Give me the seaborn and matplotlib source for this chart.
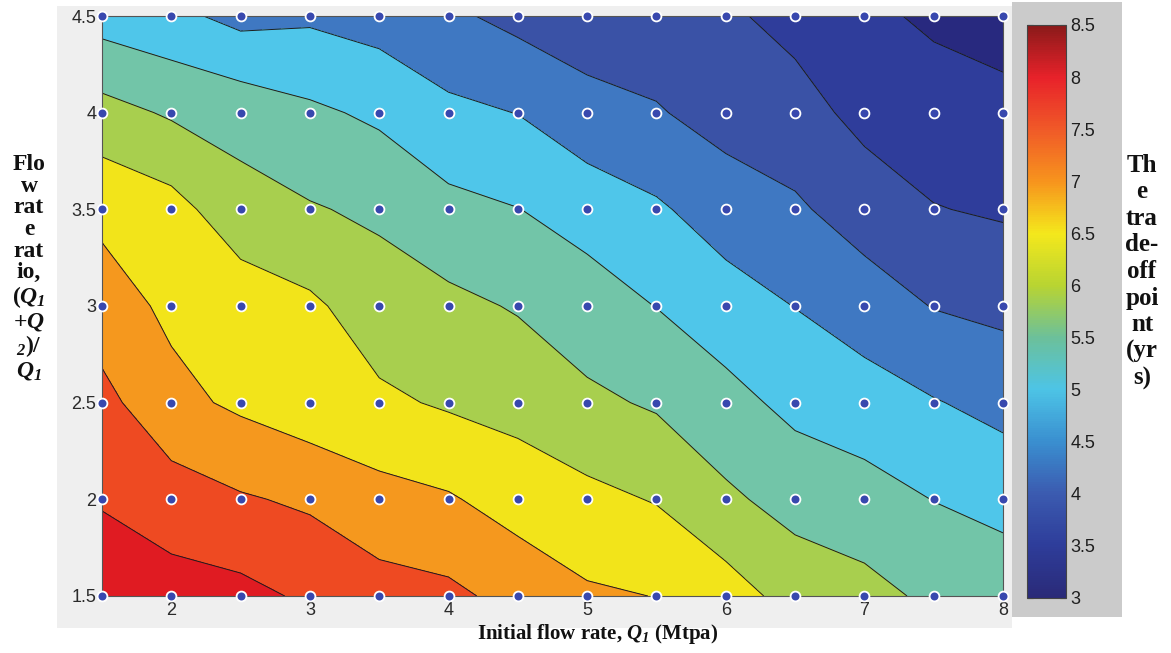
import numpy as np
import pandas as pd
import seaborn as sns
import matplotlib
matplotlib.use("Agg")
import matplotlib.pyplot as plt
from matplotlib.colors import LinearSegmentedColormap, Normalize
from matplotlib.cm import ScalarMappable
from matplotlib.patches import Rectangle

# ---------------- data ----------------
flow_rate = [1.5, 2.0, 2.5, 3.0, 3.5, 4.0, 4.5, 5.0, 5.5, 6.0, 6.5, 7.0, 7.5, 8.0]
ratio = [1.5, 2.0, 2.5, 3.0, 3.5, 4.0, 4.5]
tradeoff_y15 = [8.22, 8.20, 8.14, 7.92, 7.70, 7.61, 7.34, 7.07, 6.99, 6.73, 6.31, 6.16, 5.90, 5.82]
tradeoff_y20 = [7.97, 7.74, 7.55, 7.42, 7.17, 7.05, 6.79, 6.63, 6.47, 6.09, 5.82, 5.69, 5.49, 5.33]
tradeoff_y25 = [7.65, 7.14, 6.91, 6.70, 6.59, 6.44, 6.33, 6.10, 5.94, 5.66, 5.37, 5.23, 5.03, 4.85]
tradeoff_y30 = [7.23, 6.90, 6.79, 6.59, 6.24, 6.12, 5.96, 5.72, 5.49, 5.22, 4.99, 4.74, 4.48, 4.38]
tradeoff_y35 = [6.88, 6.68, 6.19, 6.04, 5.91, 5.64, 5.51, 5.31, 5.07, 4.76, 4.57, 4.28, 4.02, 3.94]
tradeoff_y40 = [6.18, 5.94, 5.81, 5.59, 5.41, 5.11, 4.99, 4.66, 4.54, 4.31, 4.20, 3.85, 3.72, 3.63]
tradeoff_y45 = [5.29, 5.13, 4.85, 4.92, 4.79, 4.59, 4.36, 4.25, 4.20, 4.08, 3.84, 3.60, 3.42, 3.32]
levels = [3.0, 3.5, 4.0, 4.5, 5.0, 5.5, 6.0, 6.5, 7.0, 7.5, 8.0, 8.5]
cbar_ticks = [3, 3.5, 4, 4.5, 5, 5.5, 6, 6.5, 7, 7.5, 8, 8.5]
x_ticks = [2, 3, 4, 5, 6, 7, 8]
y_ticks = [1.5, 2, 2.5, 3, 3.5, 4, 4.5]

band_colors = ["#28297f", "#2f3d9b", "#3a52a6", "#3f78c2", "#4fc6ea", "#72c5a8",
               "#a8cf4e", "#f2e41a", "#f5981e", "#ee4a22", "#e01b22"]
cbar_colors = ["#2a2a78", "#2e3d9a", "#3b5bb0", "#3a8fd0", "#4dc4e6", "#6cc09a",
               "#b8d432", "#f4e81c", "#f7941d", "#f05a28", "#e8222a", "#8b1a1a"]

Z = np.array([tradeoff_y15, tradeoff_y20, tradeoff_y25, tradeoff_y30,
              tradeoff_y35, tradeoff_y40, tradeoff_y45])
X, Y = np.meshgrid(flow_rate, ratio)
df = pd.DataFrame({"x": X.ravel(), "y": Y.ravel(), "z": Z.ravel()})

# ---------------- figure ----------------
sns.set_theme(style="white")
plt.rcParams["font.family"] = ["Liberation Sans", "DejaVu Sans"]
plt.rcParams["mathtext.fontset"] = "custom"
plt.rcParams["mathtext.rm"] = "Liberation Serif:italic:bold"
plt.rcParams["mathtext.it"] = "Liberation Serif:italic:bold"
plt.rcParams["mathtext.bf"] = "Liberation Serif:italic:bold"

W, H = 1171, 653
fig = plt.figure(figsize=(W / 100, H / 100), dpi=100)
fig.patch.set_facecolor("white")

def fx(px):
    return px / W

def fy(py):
    return 1 - py / H

# background panels
fig.patches.append(Rectangle((fx(57), fy(628)), fx(1012) - fx(57), fy(6) - fy(628),
                             transform=fig.transFigure, facecolor="#efefef",
                             edgecolor="none", zorder=-10))
fig.patches.append(Rectangle((fx(1012), fy(617)), fx(1122) - fx(1012), fy(2) - fy(617),
                             transform=fig.transFigure, facecolor="#cbcbcb",
                             edgecolor="none", zorder=-10))

ax = fig.add_axes([fx(102), fy(596), fx(1003) - fx(102), fy(16) - fy(596)])
ax.set_facecolor("none")

ax.contourf(X, Y, Z, levels=levels, colors=band_colors)
ax.contour(X, Y, Z, levels=levels, colors="#1c1c1c", linewidths=0.7)

sns.scatterplot(data=df, x="x", y="y", ax=ax, color="#3848ae", edgecolor="white",
                linewidth=1.3, s=50, clip_on=False, zorder=5, legend=False)

ax.set_xlim(1.5, 8)
ax.set_ylim(1.5, 4.5)
ax.set_xticks(x_ticks)
ax.set_yticks(y_ticks)
ax.set_xticklabels([str(t) for t in x_ticks])
ax.set_yticklabels([f"{t:g}" for t in y_ticks])
ax.tick_params(axis="both", direction="in", length=4, width=0.8, color="#222222",
               labelsize=13, labelcolor="#2a2a2a", pad=4)
ax.set_xlabel("")
ax.set_ylabel("")
for s in ax.spines.values():
    s.set_linewidth(0.8)
    s.set_color("#555555")

# colorbar
cax = fig.add_axes([fx(1027), fy(598), fx(1066) - fx(1027), fy(25) - fy(598)])
cmap = LinearSegmentedColormap.from_list("cb", cbar_colors)
sm = ScalarMappable(norm=Normalize(3, 8.5), cmap=cmap)
cb = fig.colorbar(sm, cax=cax, ticks=cbar_ticks)
cb.ax.set_yticklabels([f"{t:g}" for t in cbar_ticks])
cb.ax.tick_params(direction="in", length=4, width=0.8, color="#333333",
                  labelsize=13, labelcolor="#1e1e1e", pad=3, left=True)
cb.outline.set_linewidth(0.8)
cb.outline.set_edgecolor("#444444")

# labels
serif = dict(family=["Liberation Serif", "DejaVu Serif"], weight="bold",
             color="#111111")
fig.text(fx(598), fy(634), "Initial flow rate, $Q_{1}$ (Mtpa)",
         ha="center", va="center", fontsize=15, **serif)
ylab = ("Flo\nw\nrat\ne\nrat\nio,\n($Q_{1}$\n+$Q$\n"
        "${}_{2}$)/\n$Q_{1}$")
fig.text(fx(29), fy(268), ylab, ha="center", va="center", multialignment="center",
         linespacing=1.04, fontsize=17, **serif)
rlab = "Th\ne\ntra\nde-\noff\npoi\nnt\n(yr\ns)"
fig.text(fx(1142), fy(272), rlab, ha="center", va="center", multialignment="center",
         linespacing=1.2, fontsize=18, **serif)

fig.savefig("out.png", dpi=100)
